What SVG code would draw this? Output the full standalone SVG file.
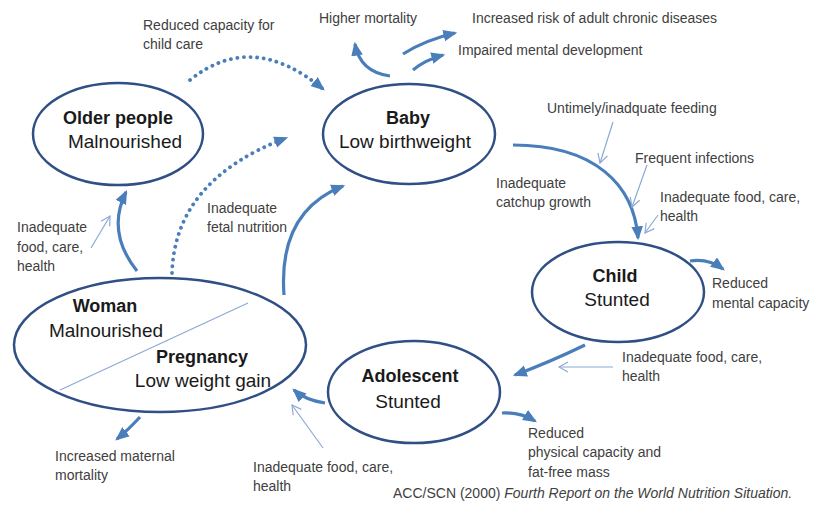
<svg xmlns="http://www.w3.org/2000/svg" width="814" height="506" viewBox="0 0 814 506">
<style>
.node{fill:#fff;stroke:#2F4F85;stroke-width:2.5}
.t{font-family:"Liberation Sans",Arial,sans-serif;fill:#1a1a1a}
.b{font-size:18px;font-weight:bold;text-anchor:middle}
.r{font-size:19px;text-anchor:middle}
.s{font-family:"Liberation Sans",Arial,sans-serif;font-size:14px;fill:#404040}
.thick{fill:none;stroke:#4A7EBB;stroke-width:3.2;marker-end:url(#ah)}
.dot{fill:none;stroke:#4A7EBB;stroke-width:3.8;stroke-linecap:round;stroke-dasharray:0.1 6.5;marker-end:url(#ah)}
.thin{fill:none;stroke:#8EA9D6;stroke-width:1.2;marker-end:url(#oh)}
</style>
<defs>
<marker id="ah" markerUnits="userSpaceOnUse" markerWidth="14" markerHeight="12" refX="10" refY="5" orient="auto" viewBox="0 0 12 10">
<path d="M0,0 L12,5 L0,10 Z" fill="#4A7EBB"/>
</marker>
<marker id="oh" markerUnits="userSpaceOnUse" markerWidth="12" markerHeight="12" refX="10" refY="6" orient="auto" viewBox="0 0 12 12">
<path d="M1,1 L10,6 L1,11" fill="none" stroke="#8EA9D6" stroke-width="1.2"/>
</marker>
</defs>
<rect width="814" height="506" fill="#fff"/>

<g id="connectors">
<path class="dot" d="M190,80 Q252,30 323,89"/>
<path class="dot" d="M172,273 Q175,180 286,138"/>
<path class="thick" d="M137,271 Q106,232 126,192"/>
<path class="thick" d="M284,295 C280,240 300,203 343,186"/>
<path class="thick" d="M390,76 Q360,72 355,44"/>
<path class="thick" d="M403,54 Q425,40 455,33"/>
<path class="thick" d="M413,70 Q425,60 443,55"/>
<path class="thick" d="M513,145 C595,145 634,185 638,238"/>
<path class="thick" d="M690,261 Q708,258 723,269"/>
<path class="thick" d="M585,345 Q550,362 515,375"/>
<path class="thick" d="M325,403 Q305,400 294,390"/>
<path class="thick" d="M502,413 Q520,412 535,421"/>
<path class="thick" d="M140,417 Q128,430 117,439"/>
<path class="thin" d="M613,122 L600,163"/>
<path class="thin" d="M647,165 L632,207"/>
<path class="thin" d="M658,215 L645,233"/>
<path class="thin" d="M613,367 L559,367"/>
<path class="thin" d="M323,448 L292,405"/>
<path class="thin" d="M91,248 L110,216"/>
</g>

<g id="older">
<ellipse class="node" cx="118" cy="134" rx="85" ry="51"/>
<text class="t b" x="118" y="124">Older people</text>
<text class="t r" x="125" y="148">Malnourished</text>
</g>
<g id="baby">
<ellipse class="node" cx="409" cy="134" rx="86" ry="50"/>
<text class="t b" x="408" y="124">Baby</text>
<text class="t r" x="405" y="148">Low birthweight</text>
</g>
<g id="child">
<ellipse class="node" cx="618" cy="292" rx="86" ry="50"/>
<text class="t b" x="615" y="282">Child</text>
<text class="t r" x="617" y="306">Stunted</text>
</g>
<g id="adolescent">
<ellipse class="node" cx="414" cy="392" rx="86" ry="51"/>
<text class="t b" x="410" y="382">Adolescent</text>
<text class="t r" x="408" y="408">Stunted</text>
</g>
<g id="woman">
<ellipse class="node" cx="160" cy="345" rx="146" ry="67"/>
<line x1="60" y1="390" x2="248" y2="303" stroke="#8EA9D6" stroke-width="1.2"/>
<text class="t b" x="105" y="312">Woman</text>
<text class="t r" x="106" y="337">Malnourished</text>
<text class="t b" x="202" y="363">Pregnancy</text>
<text class="t r" x="203" y="387">Low weight gain</text>
</g>

<g id="labels">
<text class="s" x="143" y="30">Reduced capacity for</text>
<text class="s" x="143" y="49">child care</text>
<text class="s" x="319" y="23">Higher mortality</text>
<text class="s" x="472" y="23">Increased risk of adult chronic diseases</text>
<text class="s" x="458" y="55">Impaired mental development</text>
<text class="s" x="547" y="113">Untimely/inadquate feeding</text>
<text class="s" x="635" y="163">Frequent infections</text>
<text class="s" x="660" y="202">Inadequate food, care,</text>
<text class="s" x="660" y="221">health</text>
<text class="s" x="496" y="188">Inadequate</text>
<text class="s" x="496" y="207">catchup growth</text>
<text class="s" x="207" y="213">Inadequate</text>
<text class="s" x="207" y="232">fetal nutrition</text>
<text class="s" x="17" y="232">Inadequate</text>
<text class="s" x="17" y="252">food, care,</text>
<text class="s" x="17" y="271">health</text>
<text class="s" x="712" y="288">Reduced</text>
<text class="s" x="712" y="308">mental capacity</text>
<text class="s" x="622" y="362">Inadequate food, care,</text>
<text class="s" x="622" y="381">health</text>
<text class="s" x="528" y="438">Reduced</text>
<text class="s" x="528" y="457">physical capacity and</text>
<text class="s" x="528" y="477">fat-free mass</text>
<text class="s" x="55" y="461">Increased maternal</text>
<text class="s" x="55" y="480">mortality</text>
<text class="s" x="253" y="472">Inadequate food, care,</text>
<text class="s" x="253" y="491">health</text>
<text class="s" x="393" y="498" font-size="13" fill="#262626">ACC/SCN (2000) <tspan font-style="italic">Fourth Report on the World Nutrition Situation.</tspan></text>
</g>
</svg>
